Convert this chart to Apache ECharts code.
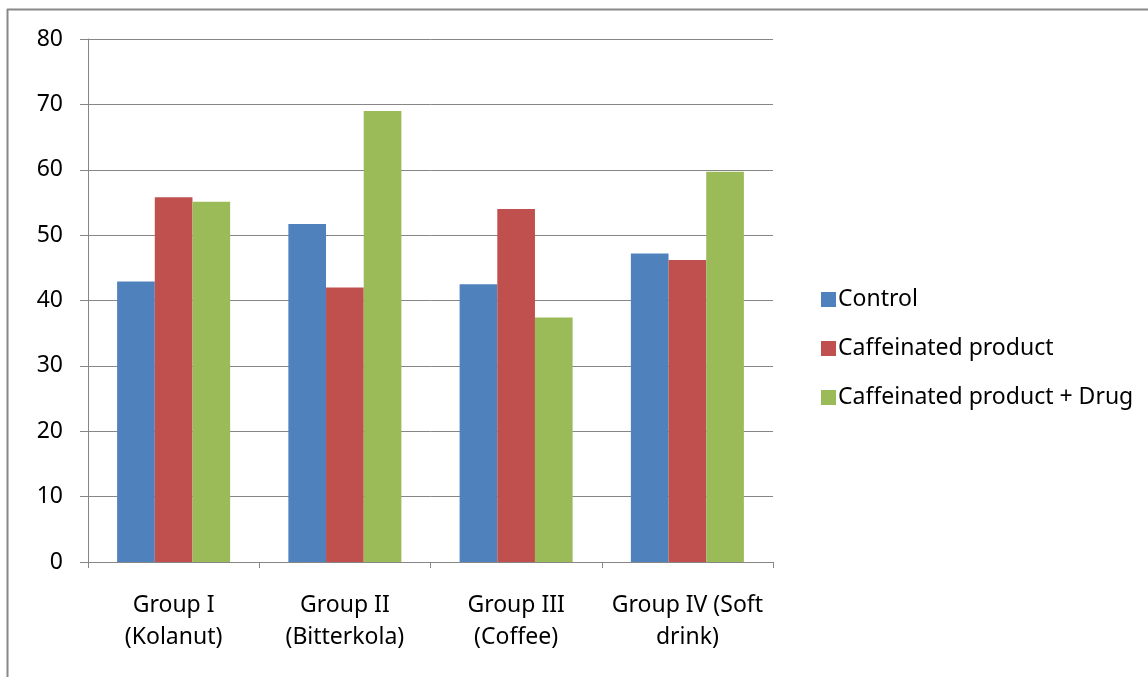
<!DOCTYPE html>
<html>
<head>
<meta charset="utf-8">
<title>Caffeinated products by group</title>
<script src="https://cdn.jsdelivr.net/npm/echarts@6/dist/echarts.min.js"></script>
<style>
  html, body { margin: 0; padding: 0; background: #fff; }
  #chart { width: 1148px; height: 677px; }
</style>
</head>
<body>
<div id="chart"></div>
<script>
// Group labels along the category axis
const categories = [
  'Group I\n(Kolanut)',
  'Group II\n(Bitterkola)',
  'Group III\n(Coffee)',
  'Group IV (Soft\ndrink)'
];

// Series names and values per group
const seriesNames = ['Control', 'Caffeinated product', 'Caffeinated product + Drug'];
const controlValues = [42.9, 51.7, 42.5, 47.2];
const caffeinatedValues = [55.8, 42.0, 54.0, 46.2];
const caffeinatedDrugValues = [55.1, 69.0, 37.4, 59.7];

// Value axis range
const yMin = 0;
const yMax = 80;
const yStep = 10;

const colors = ['#4F81BD', '#C0504D', '#9BBB59'];
const fontFamily = '"Noto Sans", "Open Sans", sans-serif';
const gridGray = '#868686';

const chart = echarts.init(document.getElementById('chart'), null, { renderer: 'canvas' });

const valueSets = [controlValues, caffeinatedValues, caffeinatedDrugValues];

chart.setOption({
  animation: false,
  backgroundColor: '#ffffff',
  color: colors,
  textStyle: { fontFamily: fontFamily },
  graphic: [
    // outer frame (top and left edges)
    { type: 'line', shape: { x1: 7, y1: 9.5, x2: 1148, y2: 9.5 }, style: { stroke: '#888888', lineWidth: 2 } },
    { type: 'line', shape: { x1: 7.5, y1: 9, x2: 7.5, y2: 677 }, style: { stroke: '#888888', lineWidth: 2 } }
  ],
  grid: { left: 88, right: 375, top: 39, bottom: 115, containLabel: false },
  legend: {
    orient: 'vertical',
    left: 816,
    top: 283,
    itemWidth: 15,
    itemHeight: 15,
    itemGap: 26,
    icon: 'rect',
    textStyle: { fontFamily: fontFamily, fontSize: 23, color: '#000', lineHeight: 22, padding: [0, 0, 0, -3] },
    data: seriesNames
  },
  xAxis: {
    type: 'category',
    data: categories,
    boundaryGap: true,
    axisLine: { show: true, lineStyle: { color: gridGray, width: 1 } },
    axisTick: { show: true, length: 6, lineStyle: { color: gridGray } },
    axisLabel: {
      fontFamily: fontFamily,
      fontSize: 23,
      color: '#000',
      lineHeight: 32,
      margin: 27,
      interval: 0,
      align: 'center'
    },
    splitLine: { show: false }
  },
  yAxis: {
    type: 'value',
    min: yMin,
    max: yMax,
    interval: yStep,
    axisLine: { show: true, lineStyle: { color: gridGray, width: 1 } },
    axisTick: { show: true, length: 8, lineStyle: { color: gridGray } },
    axisLabel: { fontFamily: fontFamily, fontSize: 23, color: '#000', margin: 25 },
    splitLine: { show: true, lineStyle: { color: gridGray, width: 1 } }
  },
  series: seriesNames.map((name, i) => ({
    name: name,
    type: 'bar',
    data: valueSets[i],
    barGap: '0%',
    barCategoryGap: '34%',
    itemStyle: { color: colors[i] }
  }))
});
</script>
</body>
</html>
